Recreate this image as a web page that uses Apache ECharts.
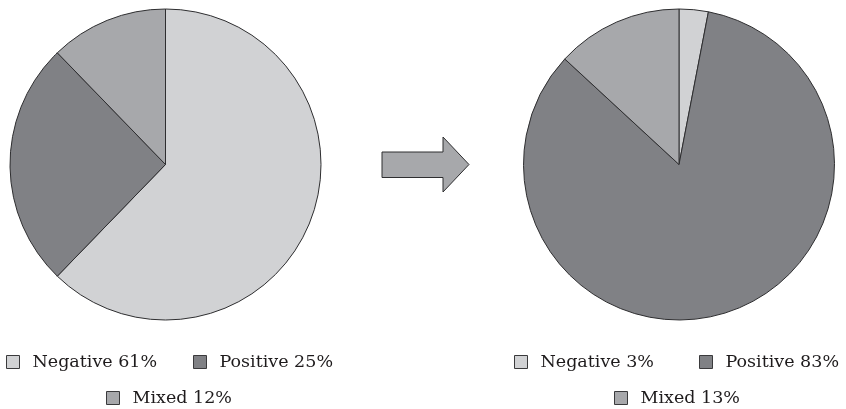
<!DOCTYPE html>
<html>
<head>
<meta charset="utf-8">
<script src="https://cdn.jsdelivr.net/npm/echarts@6/dist/echarts.min.js"></script>
<style>
  html, body { margin: 0; padding: 0; background: #ffffff; }
  #chart { width: 846px; height: 409px; }
</style>
</head>
<body>
<div id="chart"></div>
<script>
// Sentiment shares before and after
const categories = ['Negative', 'Positive', 'Mixed'];
const beforeValues = [61, 25, 12];
const afterValues = [3, 83, 13];
const sliceColors = ['#d1d2d4', '#808185', '#a7a8ab'];

const FONT = 'DejaVu Serif';
const chart = echarts.init(document.getElementById('chart'), null, { renderer: 'canvas' });

function labelOf(cat, v) { return cat + ' ' + v + '%'; }

function pieData(values, suffix) {
  return categories.map((c, i) => ({
    name: labelOf(c, values[i]) + suffix,
    value: values[i],
    itemStyle: { color: sliceColors[i] }
  }));
}

function pieSeries(values, suffix, cx) {
  return {
    type: 'pie',
    center: [cx, 164.5],
    radius: [0, 155.5],
    startAngle: 90,
    clockwise: true,
    silent: true,
    animation: false,
    label: { show: false },
    labelLine: { show: false },
    itemStyle: { borderColor: '#2e2e30', borderWidth: 1 },
    emphasis: { disabled: true },
    data: pieData(values, suffix)
  };
}

// one legend per entry so each can sit where it belongs
const legendSpots = [
  // left pie
  { suffix: '\u200b', values: beforeValues, idx: 0, left: 6, top: 353 },
  { suffix: '\u200b', values: beforeValues, idx: 1, left: 193, top: 353 },
  { suffix: '\u200b', values: beforeValues, idx: 2, left: 106, top: 389 },
  // right pie
  { suffix: '', values: afterValues, idx: 0, left: 514, top: 353 },
  { suffix: '', values: afterValues, idx: 1, left: 699, top: 353 },
  { suffix: '', values: afterValues, idx: 2, left: 614, top: 389 }
];

const legends = legendSpots.map(s => ({
  data: [labelOf(categories[s.idx], s.values[s.idx]) + s.suffix],
  left: s.left,
  top: s.top,
  orient: 'horizontal',
  padding: 0,
  icon: 'rect',
  itemWidth: 13,
  itemHeight: 13,
  selectedMode: false,
  itemStyle: { borderColor: '#3a3a3c', borderWidth: 1 },
  formatter: n => n.replace('\u200b', ''),
  textStyle: {
    fontFamily: FONT,
    fontSize: 17.5,
    color: '#1e1b1c',
    padding: [0, 0, 0, 8]
  }
}));

chart.setOption({
  animation: false,
  backgroundColor: '#ffffff',
  legend: legends,
  series: [
    pieSeries(beforeValues, '\u200b', 165.5),
    pieSeries(afterValues, '', 679)
  ],
  graphic: [{
    type: 'polygon',
    silent: true,
    shape: {
      points: [
        [382, 152], [443, 152], [443, 137], [469, 164.5],
        [443, 192], [443, 177.5], [382, 177.5]
      ]
    },
    style: { fill: '#a7a8ab', stroke: '#2e2e30', lineWidth: 1 }
  }]
});
</script>
</body>
</html>
